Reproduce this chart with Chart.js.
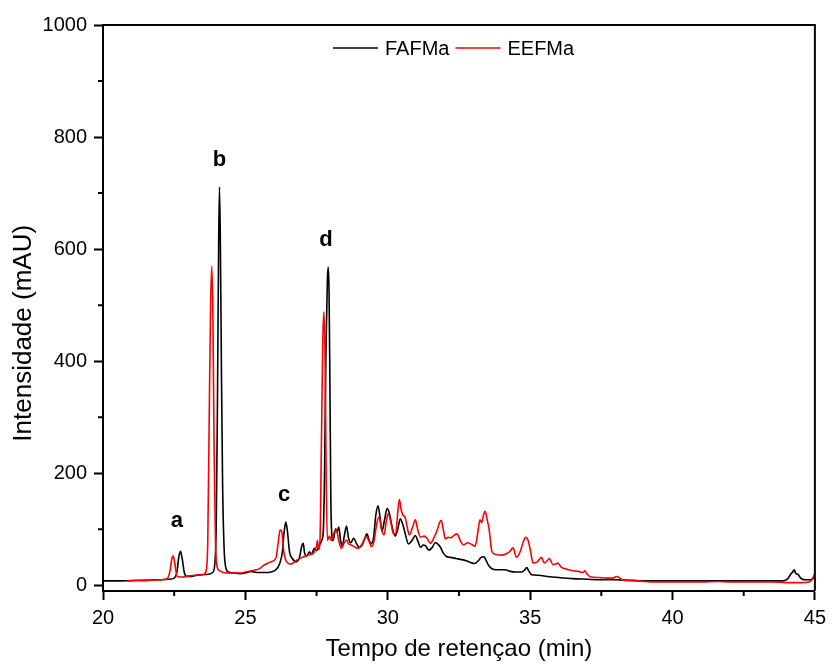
<!DOCTYPE html>
<html>
<head>
<meta charset="utf-8">
<script src="https://cdn.jsdelivr.net/npm/chart.js@4"></script>
<style>
  body { margin: 0; background: #fff; }
  #wrap { width: 832px; height: 672px; }
</style>
</head>
<body>
<div id="wrap"><canvas id="grafico"></canvas></div>
<script>
// ejes
const xTicks = [20, 25, 30, 35, 40, 45];
const xMinor = [22.5, 27.5, 32.5, 37.5, 42.5];
const yTicks = [0, 200, 400, 600, 800, 1000];
const yMinor = [100, 300, 500, 700, 900];

// FAFMa (negro)
const fafmaTime = [20.0, 20.5, 21.0, 21.5, 22.0, 22.3, 22.5, 22.6, 22.66, 22.72, 22.78, 22.86, 22.95, 23.1, 23.3, 23.5, 23.7, 23.85,
  23.93, 23.98, 24.02, 24.06, 24.09, 24.12, 24.16, 24.2, 24.25, 24.3, 24.4, 24.6, 24.8, 25.0, 25.2, 25.3, 25.5, 25.7, 25.9,
  26.05, 26.2, 26.3, 26.36, 26.42, 26.48, 26.55, 26.65, 26.78, 26.9, 26.98, 27.03, 27.08, 27.15, 27.25, 27.32, 27.42, 27.5,
  27.6, 27.68, 27.74, 27.78, 27.83, 27.88, 27.91, 27.94, 27.97, 28.0, 28.03, 28.08, 28.17, 28.22, 28.28, 28.35, 28.4, 28.48,
  28.55, 28.62, 28.7, 28.8, 28.9, 29.0, 29.1, 29.2, 29.27, 29.35, 29.42, 29.5, 29.58, 29.66, 29.72, 29.8, 29.88, 29.98, 30.05,
  30.15, 30.26, 30.35, 30.44, 30.52, 30.6, 30.73, 30.85, 30.97, 31.05, 31.15, 31.25, 31.32, 31.44, 31.55, 31.67, 31.75, 31.85,
  31.95, 32.05, 32.2, 32.4, 32.6, 32.75, 32.9, 33.05, 33.18, 33.28, 33.38, 33.45, 33.55, 33.7, 33.9, 34.1, 34.3, 34.5, 34.7,
  34.8, 34.88, 34.95, 35.05, 35.3, 35.6, 36.0, 36.5, 37.0, 37.5, 38.0, 38.5, 39.0, 40.0, 41.0, 42.0, 43.0, 43.9, 44.05, 44.15,
  44.22, 44.28, 44.33, 44.4, 44.5, 44.65, 44.85, 44.95, 45.0];
const fafmaSignal = [8, 8, 8.5, 9, 10, 11, 13, 25, 50, 61, 48, 22, 16, 16, 18, 19, 20, 23,
  40, 120, 330, 600, 711, 620, 380, 180, 70, 35, 24, 22, 21, 22, 25, 24, 23, 23, 24,
  27, 38, 60, 95, 113, 95, 60, 48, 42, 50, 70, 75, 58, 52, 60, 55, 66, 62,
  72, 80, 100, 200, 420, 545, 568, 520, 350, 160, 95, 80, 101, 95, 104, 78, 70, 90,
  106, 85, 76, 84, 75, 68, 72, 85, 92, 80, 75, 85, 125, 142, 125, 97, 115, 137, 130,
  105, 88, 100, 119, 110, 95, 74, 80, 89, 80, 68, 72, 71, 63, 67, 76, 74, 68,
  58, 52, 50, 48, 46, 44, 41, 39, 44, 50, 51, 45, 35, 29, 28, 28, 25, 24, 24,
  27, 32, 26, 19, 18, 16, 14, 12, 11, 10, 10, 9, 8, 8, 8, 8, 8, 8, 12, 20,
  24, 28, 21, 20, 13, 10, 10, 13, 16];

// EEFMa (rojo)
const eefmaTime = [20.85, 21.2, 21.6, 22.0, 22.25, 22.35, 22.42, 22.46, 22.52, 22.6, 22.8, 23.0, 23.2, 23.4, 23.55, 23.63,
  23.68, 23.73, 23.78, 23.82, 23.86, 23.9, 23.95, 24.0, 24.1, 24.3, 24.5, 24.8, 25.0, 25.3, 25.5, 25.65, 25.8, 25.95, 26.08,
  26.15, 26.22, 26.28, 26.35, 26.45, 26.6, 26.8, 27.0, 27.2, 27.4, 27.5, 27.53, 27.57, 27.62, 27.67, 27.72, 27.76, 27.8,
  27.84, 27.88, 27.95, 28.02, 28.12, 28.2, 28.28, 28.37, 28.46, 28.55, 28.63, 28.72, 28.85, 28.96, 29.1, 29.25, 29.35, 29.43,
  29.52, 29.62, 29.7, 29.78, 29.87, 29.95, 30.02, 30.1, 30.2, 30.28, 30.35, 30.41, 30.47, 30.53, 30.62, 30.7, 30.76, 30.88,
  30.97, 31.05, 31.15, 31.28, 31.38, 31.5, 31.62, 31.73, 31.82, 31.88, 31.95, 32.02, 32.12, 32.2, 32.3, 32.43, 32.55, 32.66,
  32.8, 32.95, 33.07, 33.15, 33.24, 33.3, 33.36, 33.42, 33.48, 33.56, 33.66, 33.8, 34.0, 34.15, 34.28, 34.4, 34.52, 34.65,
  34.76, 34.85, 34.93, 35.02, 35.1, 35.25, 35.4, 35.5, 35.6, 35.68, 35.8, 35.9, 35.97, 36.1, 36.2, 36.35, 36.5, 36.7, 36.85,
  36.92, 37.0, 37.15, 37.4, 37.7, 37.9, 38.05, 38.15, 38.3, 38.6, 39.0, 39.5, 40.0, 40.5, 41.0, 41.6, 42.0, 42.8, 43.5, 44.0,
  44.5, 44.8, 44.92, 45.0];
const eefmaSignal = [8, 9, 9, 10, 12, 25, 48, 53, 40, 16, 15, 17, 18, 19, 20, 28,
  80, 300, 500, 570, 480, 250, 80, 35, 26, 22, 22, 22, 24, 27, 30, 36, 40, 43, 50,
  75, 99, 95, 60, 42, 38, 45, 50, 54, 58, 70, 80, 64, 80, 250, 440, 488, 400,
  180, 80, 88, 80, 95, 100, 80, 66, 75, 81, 74, 72, 68, 66, 74, 87, 78, 69,
  80, 112, 122, 100, 90, 115, 128, 115, 92, 92, 130, 153, 135, 126, 120, 100, 90, 105,
  117, 100, 86, 88, 84, 75, 85, 98, 112, 116, 100, 83, 86, 85, 88, 92, 80, 72,
  76, 73, 70, 90, 117, 112, 125, 132, 120, 100, 60, 55, 54, 56, 60, 67, 50, 60,
  78, 86, 80, 60, 40, 42, 50, 40, 44, 48, 37, 38, 40, 32, 30, 28, 26, 25, 23,
  26, 20, 15, 14, 13, 13, 16, 13, 9, 9, 7, 6, 6, 6, 6, 7, 6, 6, 6, 5,
  5, 6, 12, 22];

// letras de los picos
const picoLetras = ["a", "b", "c", "d"];
const picoX = [22.59, 24.09, 26.36, 27.83];
const picoY = [115, 759, 161, 616];

const fuente = "'Liberation Sans', Arial, sans-serif";

const extras = {
  id: "extras",
  afterDraw(chart) {
    const { ctx, chartArea: a } = chart;
    const x = chart.scales.x;
    const y = chart.scales.y;
    ctx.save();
    ctx.strokeStyle = "#000";
    ctx.lineWidth = 2;
    ctx.beginPath();
    xMinor.forEach(v => {
      const px = x.getPixelForValue(v);
      ctx.moveTo(px, a.bottom);
      ctx.lineTo(px, a.bottom + 5);
    });
    yMinor.forEach(v => {
      const py = y.getPixelForValue(v);
      ctx.moveTo(a.left, py);
      ctx.lineTo(a.left - 5, py);
    });
    // marco superior y derecho
    ctx.moveTo(a.left, a.top);
    ctx.lineTo(a.right, a.top);
    ctx.lineTo(a.right, a.bottom);
    ctx.stroke();

    // letras
    ctx.fillStyle = "#000";
    ctx.font = "bold 22px " + fuente;
    ctx.textAlign = "center";
    ctx.textBaseline = "middle";
    picoLetras.forEach((l, i) => {
      ctx.fillText(l, x.getPixelForValue(picoX[i]), y.getPixelForValue(picoY[i]));
    });

    // leyenda dentro del area
    ctx.font = "20px " + fuente;
    ctx.textAlign = "left";
    let lx = a.left + 230;
    const ly = a.top + 23;
    chart.data.datasets.forEach(ds => {
      ctx.strokeStyle = ds.borderColor;
      ctx.lineWidth = 1.6;
      ctx.beginPath();
      ctx.moveTo(lx, ly);
      ctx.lineTo(lx + 45, ly);
      ctx.stroke();
      ctx.fillStyle = "#000";
      ctx.fillText(ds.label, lx + 52, ly + 1);
      lx += 52 + ctx.measureText(ds.label).width + 6;
    });
    ctx.restore();
  }
};

new Chart(document.getElementById("grafico"), {
  type: "line",
  data: {
    datasets: [
      {
        label: "FAFMa",
        data: fafmaTime.map((t, i) => ({ x: t, y: fafmaSignal[i] })),
        borderColor: "#000000",
        borderWidth: 1.6,
        pointRadius: 0,
        cubicInterpolationMode: "monotone",
        order: 1
      },
      {
        label: "EEFMa",
        data: eefmaTime.map((t, i) => ({ x: t, y: eefmaSignal[i] })),
        borderColor: "#ff0000",
        borderWidth: 1.6,
        pointRadius: 0,
        cubicInterpolationMode: "monotone",
        order: 0
      }
    ]
  },
  options: {
    responsive: true,
    maintainAspectRatio: false,
    animation: false,
    layout: { padding: { top: 25, right: 14, left: 0, bottom: 0 } },
    plugins: {
      tooltip: { enabled: false },
      legend: { display: false }
    },
    scales: {
      x: {
        type: "linear",
        min: 20,
        max: 45,
        afterBuildTicks: s => { s.ticks = xTicks.map(v => ({ value: v })); },
        afterFit: s => { s.height = 81; },
        border: { display: true, color: "#000", width: 2 },
        grid: { drawOnChartArea: false, drawTicks: true, tickLength: 9, tickWidth: 2, tickColor: "#000" },
        ticks: {
          color: "#000", padding: 6, maxRotation: 0,
          font: { family: fuente, size: 20 },
          callback: v => String(v)
        },
        title: {
          display: true,
          text: "Tempo de retençao (min)",
          color: "#000",
          font: { family: fuente, size: 24 },
          padding: { top: 0, bottom: 8 }
        }
      },
      y: {
        min: -10,
        max: 1000,
        afterBuildTicks: s => { s.ticks = yTicks.map(v => ({ value: v })); },
        afterFit: s => { s.width = 103; },
        border: { display: true, color: "#000", width: 2 },
        grid: { drawOnChartArea: false, drawTicks: true, tickLength: 9, tickWidth: 2, tickColor: "#000" },
        ticks: {
          color: "#000", padding: 7,
          font: { family: fuente, size: 20 },
          callback: v => String(v)
        },
        title: {
          display: true,
          text: "Intensidade (mAU)       ",
          color: "#000",
          font: { family: fuente, size: 26 },
          padding: { top: 8, bottom: 0 }
        }
      }
    }
  },
  plugins: [extras]
});
</script>
</body>
</html>
